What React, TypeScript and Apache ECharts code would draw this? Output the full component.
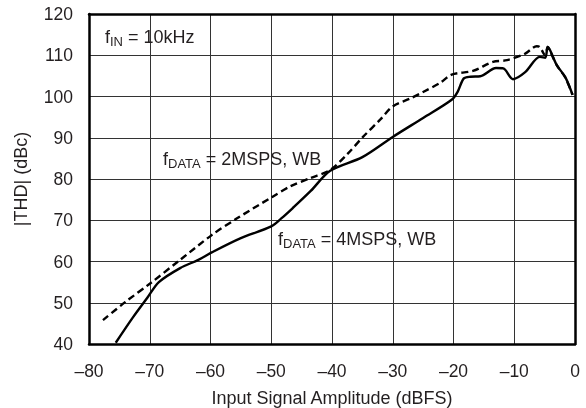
import React, { useEffect, useRef } from "react";
import * as echarts from "echarts";

const xTicks = [-80, -70, -60, -50, -40, -30, -20, -10, 0];
const yTicks = [40, 50, 60, 70, 80, 90, 100, 110, 120];

// fDATA = 4MSPS, WB (solid)
const solidX = [-75.6, -72.8, -70.4, -68.5, -65, -62, -59.8, -55.1, -50, -48.3, -46.5, -43.5, -40.3, -35, -30, -25, -20.3, -19.3, -18.3, -17.2, -15.6, -13, -11.8, -10.2, -8.2, -5.8, -4.9, -4.5, -4.1, -3, -1.6, -0.4];
const solidY = [40.3, 46.4, 51.2, 55, 58.4, 60.4, 62.2, 65.6, 68.5, 70.5, 72.9, 77.1, 82, 85.3, 90.2, 94.8, 99.2, 101.2, 104.4, 104.8, 104.9, 106.9, 106.8, 104.2, 105.9, 109.6, 109.4, 112, 111.2, 107.6, 104.7, 100.4];

// fDATA = 2MSPS, WB (dashed)
const dashX = [-77.7, -74, -70, -65, -59.8, -55.7, -49.9, -46.9, -43.6, -40.3, -37.5, -34.9, -32, -30, -27, -25, -22.2, -20.3, -16.8, -13.5, -11.2, -8.2, -6.3, -5.8, -4.9, -4.5, -4.1, -3, -1.6, -0.4];
const dashY = [45.8, 50.2, 54.6, 60.4, 66.4, 70.4, 75.6, 78.2, 80.2, 82.2, 86, 90.2, 94.5, 97.6, 99.6, 101.1, 103.3, 105.3, 106.2, 108.4, 108.8, 110.4, 112.2, 112, 110, 112, 111, 107.6, 104.6, 100.4];

const labelIN = ["f", "IN", " = 10kHz"];
const label2 = ["f", "DATA", " = 2MSPS, WB"];
const label4 = ["f", "DATA", " = 4MSPS, WB"];

const FONT = "'Liberation Sans', Arial, Helvetica, sans-serif";
const INK = "#231f20";

const richStyles = {
  n: { fontSize: 18, lineHeight: 22, verticalAlign: "middle", fontFamily: FONT, color: INK, fontWeight: "normal" },
  s: { fontSize: 13, lineHeight: 22, verticalAlign: "bottom", fontFamily: FONT, color: INK, fontWeight: "normal" },
};

function richText(parts: string[]) {
  return `{n|${parts[0]}}{s|${parts[1]}}{n|${parts[2]}}`;
}

const frameLine = { show: true, onZero: false, lineStyle: { color: "#000", width: 2.5 } };

export default function App() {
  const ref = useRef<HTMLDivElement>(null);
  useEffect(() => {
    if (!ref.current) return;
    const chart = echarts.init(ref.current, undefined, { renderer: "svg" });
    const fmt = (v: number) => String(v).replace("-", "\u2013");
    const ann = (parts: string[], x: number, y: number) => ({
      text: richText(parts),
      left: x,
      top: y,
      padding: 0,
      textStyle: { rich: richStyles, fontWeight: "normal", fontFamily: FONT, fontSize: 18, color: INK },
    });
    chart.setOption({
      animation: false,
      title: [
        ann(labelIN, 105, 26),
        ann(label2, 163, 148),
        ann(label4, 278, 228),
      ],
      grid: {
        left: 89,
        right: 11,
        top: 14,
        bottom: 64,
        outerBoundsMode: "none",
      },
      xAxis: [
        {
          type: "value",
          position: "bottom",
          min: xTicks[0],
          max: xTicks[xTicks.length - 1],
          interval: 10,
          name: "Input Signal Amplitude (dBFS)",
          nameLocation: "middle",
          nameGap: 45,
          nameTextStyle: { fontSize: 18, fontFamily: FONT, color: INK },
          axisLine: frameLine,
          axisTick: { show: false },
          axisLabel: { formatter: fmt, fontSize: 17.5, fontFamily: FONT, color: INK, margin: 18 },
          splitLine: { show: true, lineStyle: { color: "#333", width: 1 } },
        },
        {
          type: "value",
          position: "top",
          min: xTicks[0],
          max: xTicks[xTicks.length - 1],
          interval: 10,
          axisLine: frameLine,
          axisTick: { show: false },
          axisLabel: { show: false },
          splitLine: { show: false },
        },
      ],
      yAxis: [
        {
          type: "value",
          position: "left",
          min: yTicks[0],
          max: yTicks[yTicks.length - 1],
          interval: 10,
          name: "|THD| (dBc)",
          nameLocation: "middle",
          nameGap: 59,
          nameTextStyle: { fontSize: 18, fontFamily: FONT, color: INK },
          axisLine: frameLine,
          axisTick: { show: false },
          axisLabel: { formatter: fmt, fontSize: 17.5, fontFamily: FONT, color: INK, margin: 16 },
          splitLine: { show: true, lineStyle: { color: "#333", width: 1 } },
        },
        {
          type: "value",
          position: "right",
          min: yTicks[0],
          max: yTicks[yTicks.length - 1],
          interval: 10,
          axisLine: frameLine,
          axisTick: { show: false },
          axisLabel: { show: false },
          splitLine: { show: false },
        },
      ],
      series: [
        {
          type: "line",
          xAxisIndex: 0,
          yAxisIndex: 0,
          data: solidX.map((x, i) => [x, solidY[i]]),
          showSymbol: false,
          smooth: 0.3,
          lineStyle: { color: "#000", width: 2.4 },
        },
        {
          type: "line",
          xAxisIndex: 0,
          yAxisIndex: 0,
          data: dashX.map((x, i) => [x, dashY[i]]),
          showSymbol: false,
          smooth: 0.3,
          lineStyle: { color: "#000", width: 2.4, type: [7, 4] },
        },
      ],
    });
    return () => chart.dispose();
  }, []);
  return (
    <div
      ref={ref}
      style={{ position: "fixed", left: 0, top: 0, width: 586, height: 408 }}
    />
  );
}
